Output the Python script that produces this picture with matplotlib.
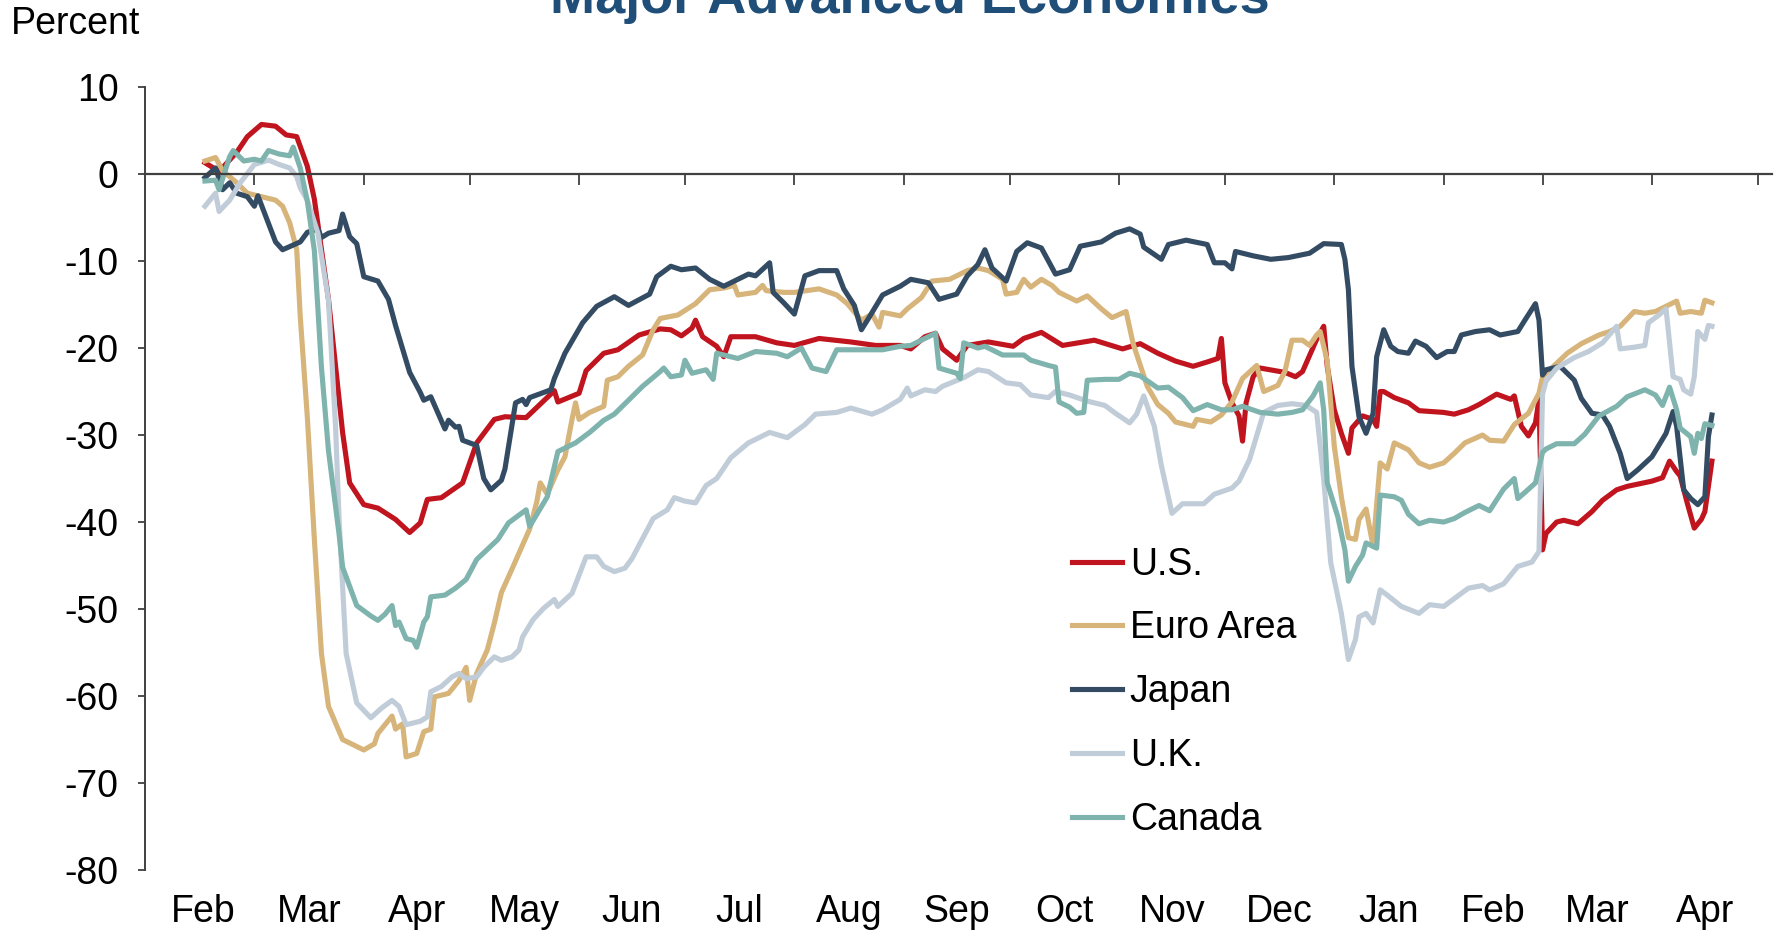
import matplotlib
matplotlib.use("Agg")
import matplotlib.pyplot as plt
import matplotlib.dates as mdates
import pandas as pd

plt.rcParams['font.family'] = ['Liberation Sans', 'DejaVu Sans']
plt.rcParams['axes.unicode_minus'] = False

# ---- data ----
us_dates = ["2020-02-16", "2020-02-20", "2020-02-25", "2020-02-28", "2020-03-03", "2020-03-07", "2020-03-10",
            "2020-03-13", "2020-03-16", "2020-03-18", "2020-03-22", "2020-03-26", "2020-03-28", "2020-04-01",
            "2020-04-05", "2020-04-10", "2020-04-14", "2020-04-17", "2020-04-19", "2020-04-23", "2020-04-29",
            "2020-05-03", "2020-05-08", "2020-05-11", "2020-05-17", "2020-05-25", "2020-05-26", "2020-06-01",
            "2020-06-03", "2020-06-08", "2020-06-12", "2020-06-18", "2020-06-24", "2020-06-27", "2020-06-30",
            "2020-07-03", "2020-07-04", "2020-07-06", "2020-07-10", "2020-07-12", "2020-07-14", "2020-07-21",
            "2020-07-27", "2020-08-01", "2020-08-08", "2020-08-17", "2020-08-24", "2020-08-31", "2020-09-03",
            "2020-09-07", "2020-09-10", "2020-09-12", "2020-09-16", "2020-09-19", "2020-09-25", "2020-10-02",
            "2020-10-05", "2020-10-10", "2020-10-16", "2020-10-25", "2020-11-02", "2020-11-07", "2020-11-12",
            "2020-11-17", "2020-11-22", "2020-11-26", "2020-11-29", "2020-11-30", "2020-12-01", "2020-12-03",
            "2020-12-05", "2020-12-06", "2020-12-07", "2020-12-09", "2020-12-11", "2020-12-18", "2020-12-21",
            "2020-12-23", "2020-12-27", "2020-12-29", "2020-12-30", "2021-01-01", "2021-01-03", "2021-01-05",
            "2021-01-06", "2021-01-09", "2021-01-12", "2021-01-13", "2021-01-14", "2021-01-15", "2021-01-18",
            "2021-01-22", "2021-01-25", "2021-02-01", "2021-02-04", "2021-02-08", "2021-02-11", "2021-02-16",
            "2021-02-20", "2021-02-21", "2021-02-23", "2021-02-25", "2021-02-27", "2021-02-28", "2021-03-01",
            "2021-03-02", "2021-03-05", "2021-03-07", "2021-03-11", "2021-03-15", "2021-03-18", "2021-03-22",
            "2021-03-25", "2021-04-01", "2021-04-04", "2021-04-06", "2021-04-08", "2021-04-09", "2021-04-11",
            "2021-04-13", "2021-04-15", "2021-04-16", "2021-04-18"]
us_vals = [1.3, 0.3, 2.5, 4.3, 5.7, 5.5, 4.5,
           4.3, 0.9, -2.9, -14.4, -29.7, -35.5, -38.0,
           -38.4, -39.7, -41.2, -40.1, -37.4, -37.2, -35.5,
           -30.9, -28.2, -27.9, -28.0, -24.9, -26.2, -25.2,
           -22.6, -20.6, -20.2, -18.5, -17.8, -17.9, -18.6,
           -17.7, -16.8, -18.7, -19.8, -21.0, -18.7, -18.7,
           -19.4, -19.7, -18.9, -19.3, -19.7, -19.7, -20.1,
           -18.7, -18.3, -20.1, -21.4, -19.7, -19.3, -19.8,
           -18.9, -18.2, -19.7, -19.1, -20.1, -19.5, -20.6,
           -21.5, -22.1, -21.6, -21.2, -18.9, -24.0, -26.3,
           -27.8, -30.7, -26.3, -23.3, -22.3, -22.8, -23.3,
           -22.7, -19.0, -17.5, -22.1, -27.1, -29.8, -32.1,
           -29.2, -27.8, -28.2, -29.0, -25.0, -25.0, -25.7,
           -26.3, -27.2, -27.4, -27.6, -27.1, -26.5, -25.3,
           -25.9, -25.5, -29.0, -30.1, -28.6, -25.9, -43.2,
           -41.3, -40.0, -39.8, -40.2, -38.8, -37.5, -36.3,
           -35.9, -35.3, -34.9, -33.0, -34.2, -34.7, -37.8,
           -40.7, -39.7, -38.8, -33.0]

euro_dates = ["2020-02-16", "2020-02-19", "2020-02-21", "2020-02-25", "2020-02-28", "2020-03-03", "2020-03-07",
              "2020-03-09", "2020-03-11", "2020-03-13", "2020-03-14", "2020-03-16", "2020-03-18", "2020-03-20",
              "2020-03-22", "2020-03-26", "2020-04-01", "2020-04-04", "2020-04-05", "2020-04-09", "2020-04-10",
              "2020-04-12", "2020-04-13", "2020-04-16", "2020-04-18", "2020-04-20", "2020-04-21", "2020-04-25",
              "2020-04-28", "2020-04-30", "2020-05-01", "2020-05-03", "2020-05-06", "2020-05-08", "2020-05-10",
              "2020-05-13", "2020-05-18", "2020-05-20", "2020-05-21", "2020-05-23", "2020-05-26", "2020-05-28",
              "2020-05-30", "2020-05-31", "2020-06-01", "2020-06-04", "2020-06-08", "2020-06-09", "2020-06-12",
              "2020-06-15", "2020-06-19", "2020-06-22", "2020-06-24", "2020-06-29", "2020-07-04", "2020-07-08",
              "2020-07-12", "2020-07-15", "2020-07-16", "2020-07-21", "2020-07-23", "2020-07-24", "2020-07-29",
              "2020-08-01", "2020-08-08", "2020-08-13", "2020-08-16", "2020-08-20", "2020-08-23", "2020-08-25",
              "2020-08-26", "2020-08-31", "2020-09-02", "2020-09-06", "2020-09-09", "2020-09-14", "2020-09-19",
              "2020-09-22", "2020-09-25", "2020-09-29", "2020-09-30", "2020-10-03", "2020-10-05", "2020-10-07",
              "2020-10-10", "2020-10-13", "2020-10-15", "2020-10-20", "2020-10-23", "2020-10-27", "2020-10-30",
              "2020-11-03", "2020-11-05", "2020-11-09", "2020-11-12", "2020-11-15", "2020-11-17", "2020-11-22",
              "2020-11-23", "2020-11-27", "2020-11-30", "2020-12-03", "2020-12-06", "2020-12-10", "2020-12-12",
              "2020-12-16", "2020-12-18", "2020-12-20", "2020-12-23", "2020-12-25", "2020-12-27", "2020-12-28",
              "2020-12-30", "2021-01-01", "2021-01-03", "2021-01-05", "2021-01-07", "2021-01-08", "2021-01-10",
              "2021-01-12", "2021-01-14", "2021-01-16", "2021-01-18", "2021-01-22", "2021-01-25", "2021-01-28",
              "2021-02-01", "2021-02-04", "2021-02-07", "2021-02-12", "2021-02-14", "2021-02-18", "2021-02-21",
              "2021-02-25", "2021-02-28", "2021-03-01", "2021-03-08", "2021-03-12", "2021-03-17", "2021-03-20",
              "2021-03-23", "2021-03-27", "2021-03-30", "2021-04-02", "2021-04-05", "2021-04-08", "2021-04-09",
              "2021-04-12", "2021-04-15", "2021-04-16", "2021-04-18"]
euro_vals = [1.5, 1.9, 0.4, -1.0, -2.2, -2.6, -3.0,
             -3.7, -5.6, -8.7, -16.4, -27.9, -42.0, -55.1,
             -61.2, -65.0, -66.2, -65.5, -64.3, -62.3, -63.8,
             -63.2, -67.0, -66.6, -64.1, -63.8, -60.1, -59.7,
             -58.2, -56.7, -60.5, -57.4, -54.7, -51.6, -48.1,
             -45.4, -40.8, -37.7, -35.5, -36.8, -34.0, -32.5,
             -28.2, -26.3, -28.2, -27.4, -26.7, -23.7, -23.3,
             -22.1, -20.8, -17.9, -16.6, -16.2, -14.9, -13.3,
             -13.1, -12.8, -13.9, -13.6, -12.8, -13.4, -13.6,
             -13.6, -13.2, -13.9, -14.9, -16.8, -16.1, -17.6,
             -15.9, -16.3, -15.5, -14.2, -12.3, -12.1, -11.1,
             -10.8, -11.1, -12.1, -13.8, -13.6, -12.1, -13.0,
             -12.1, -12.8, -13.6, -14.6, -14.0, -15.5, -16.5,
             -15.8, -19.5, -24.4, -26.5, -27.5, -28.5, -29.0,
             -28.2, -28.5, -27.7, -26.2, -23.5, -22.0, -25.0,
             -24.3, -22.7, -19.1, -19.1, -19.7, -18.5, -18.1,
             -21.5, -31.3, -37.1, -41.8, -42.0, -39.7, -38.5,
             -42.8, -33.2, -33.9, -30.9, -31.7, -33.2, -33.7,
             -33.2, -32.1, -30.9, -30.0, -30.6, -30.7, -28.8,
             -27.5, -25.2, -23.3, -20.6, -19.5, -18.5, -18.1,
             -17.5, -15.8, -16.0, -15.8, -15.2, -14.6, -16.0,
             -15.8, -16.0, -14.5, -14.8]

japan_dates = ["2020-02-16", "2020-02-19", "2020-02-21", "2020-02-23", "2020-02-25", "2020-02-28", "2020-03-01",
               "2020-03-02", "2020-03-07", "2020-03-09", "2020-03-14", "2020-03-16", "2020-03-19", "2020-03-20",
               "2020-03-22", "2020-03-25", "2020-03-26", "2020-03-28", "2020-03-30", "2020-04-01", "2020-04-05",
               "2020-04-08", "2020-04-10", "2020-04-14", "2020-04-17", "2020-04-18", "2020-04-20", "2020-04-24",
               "2020-04-25", "2020-04-27", "2020-04-28", "2020-04-29", "2020-05-03", "2020-05-05", "2020-05-07",
               "2020-05-10", "2020-05-11", "2020-05-14", "2020-05-16", "2020-05-17", "2020-05-18", "2020-05-24",
               "2020-05-25", "2020-05-28", "2020-06-02", "2020-06-06", "2020-06-11", "2020-06-15", "2020-06-21",
               "2020-06-23", "2020-06-27", "2020-06-30", "2020-07-04", "2020-07-08", "2020-07-12", "2020-07-19",
               "2020-07-21", "2020-07-25", "2020-07-26", "2020-07-29", "2020-08-01", "2020-08-04", "2020-08-08",
               "2020-08-13", "2020-08-15", "2020-08-18", "2020-08-20", "2020-08-22", "2020-08-26", "2020-08-31",
               "2020-09-03", "2020-09-08", "2020-09-11", "2020-09-16", "2020-09-19", "2020-09-22", "2020-09-24",
               "2020-09-26", "2020-09-30", "2020-10-03", "2020-10-06", "2020-10-10", "2020-10-14", "2020-10-18",
               "2020-10-21", "2020-10-27", "2020-10-31", "2020-11-04", "2020-11-07", "2020-11-08", "2020-11-13",
               "2020-11-15", "2020-11-20", "2020-11-26", "2020-11-28", "2020-12-01", "2020-12-03", "2020-12-04",
               "2020-12-09", "2020-12-14", "2020-12-19", "2020-12-25", "2020-12-29", "2021-01-03", "2021-01-04",
               "2021-01-05", "2021-01-06", "2021-01-08", "2021-01-10", "2021-01-12", "2021-01-13", "2021-01-15",
               "2021-01-17", "2021-01-19", "2021-01-22", "2021-01-24", "2021-01-27", "2021-01-30", "2021-02-02",
               "2021-02-04", "2021-02-06", "2021-02-10", "2021-02-14", "2021-02-17", "2021-02-22", "2021-02-24",
               "2021-02-27", "2021-02-28", "2021-03-01", "2021-03-02", "2021-03-06", "2021-03-10", "2021-03-12",
               "2021-03-15", "2021-03-18", "2021-03-20", "2021-03-23", "2021-03-25", "2021-03-28", "2021-04-01",
               "2021-04-05", "2021-04-07", "2021-04-08", "2021-04-10", "2021-04-12", "2021-04-14", "2021-04-16",
               "2021-04-17", "2021-04-18"]
japan_vals = [-0.4, 0.7, -1.8, -1.0, -2.2, -2.6, -3.7,
              -2.5, -7.8, -8.7, -7.8, -6.7, -6.3, -7.3,
              -6.8, -6.5, -4.6, -7.2, -8.0, -11.8, -12.3,
              -14.4, -17.4, -22.8, -25.1, -26.0, -25.6, -29.3,
              -28.3, -29.1, -29.0, -30.6, -31.2, -35.0, -36.3,
              -35.2, -33.9, -26.3, -25.9, -26.5, -25.7, -24.8,
              -23.5, -20.6, -17.1, -15.2, -14.1, -15.1, -13.8,
              -11.8, -10.6, -11.0, -10.8, -12.1, -12.9, -11.5,
              -11.7, -10.2, -13.6, -14.8, -16.1, -11.7, -11.1,
              -11.1, -13.2, -15.1, -17.9, -16.6, -13.9, -12.9,
              -12.1, -12.5, -14.4, -13.8, -11.7, -10.4, -8.7,
              -10.8, -12.3, -8.9, -7.9, -8.5, -11.5, -11.0,
              -8.3, -7.8, -6.8, -6.3, -6.9, -8.4, -9.8,
              -8.1, -7.6, -8.1, -10.2, -10.2, -10.9, -8.9,
              -9.4, -9.8, -9.6, -9.1, -8.0, -8.1, -9.8,
              -13.3, -22.1, -27.9, -29.8, -27.5, -21.0, -17.9,
              -19.8, -20.4, -20.6, -19.2, -19.8, -21.1, -20.4,
              -20.4, -18.5, -18.1, -17.9, -18.5, -18.1, -16.8,
              -14.9, -16.8, -23.1, -22.5, -22.1, -23.7, -25.8,
              -27.5, -27.7, -29.0, -32.1, -35.0, -34.0, -32.5,
              -29.8, -27.3, -29.0, -36.3, -37.3, -38.0, -37.1,
              -30.2, -27.7]

uk_dates = ["2020-02-16", "2020-02-19", "2020-02-20", "2020-02-23", "2020-02-26", "2020-03-01", "2020-03-05",
            "2020-03-08", "2020-03-11", "2020-03-13", "2020-03-14", "2020-03-16", "2020-03-19", "2020-03-22",
            "2020-03-24", "2020-03-25", "2020-03-27", "2020-03-30", "2020-04-03", "2020-04-06", "2020-04-09",
            "2020-04-11", "2020-04-13", "2020-04-17", "2020-04-19", "2020-04-20", "2020-04-23", "2020-04-26",
            "2020-04-28", "2020-04-30", "2020-05-03", "2020-05-05", "2020-05-08", "2020-05-10", "2020-05-13",
            "2020-05-15", "2020-05-16", "2020-05-19", "2020-05-22", "2020-05-25", "2020-05-26", "2020-05-30",
            "2020-06-01", "2020-06-03", "2020-06-06", "2020-06-08", "2020-06-11", "2020-06-14", "2020-06-16",
            "2020-06-19", "2020-06-22", "2020-06-26", "2020-06-28", "2020-07-01", "2020-07-04", "2020-07-07",
            "2020-07-10", "2020-07-14", "2020-07-19", "2020-07-25", "2020-07-30", "2020-08-04", "2020-08-07",
            "2020-08-13", "2020-08-17", "2020-08-23", "2020-08-26", "2020-08-31", "2020-09-02", "2020-09-03",
            "2020-09-07", "2020-09-10", "2020-09-12", "2020-09-18", "2020-09-22", "2020-09-25", "2020-09-30",
            "2020-10-04", "2020-10-07", "2020-10-12", "2020-10-14", "2020-10-18", "2020-10-23", "2020-10-28",
            "2020-10-31", "2020-11-04", "2020-11-06", "2020-11-08", "2020-11-11", "2020-11-13", "2020-11-16",
            "2020-11-19", "2020-11-25", "2020-11-28", "2020-12-03", "2020-12-05", "2020-12-08", "2020-12-10",
            "2020-12-12", "2020-12-16", "2020-12-20", "2020-12-24", "2020-12-27", "2020-12-29", "2020-12-31",
            "2021-01-03", "2021-01-05", "2021-01-07", "2021-01-08", "2021-01-10", "2021-01-12", "2021-01-14",
            "2021-01-16", "2021-01-20", "2021-01-25", "2021-01-28", "2021-02-01", "2021-02-04", "2021-02-08",
            "2021-02-12", "2021-02-14", "2021-02-18", "2021-02-22", "2021-02-26", "2021-02-28", "2021-03-01",
            "2021-03-02", "2021-03-05", "2021-03-10", "2021-03-14", "2021-03-18", "2021-03-22", "2021-03-23",
            "2021-03-27", "2021-03-30", "2021-03-31", "2021-04-03", "2021-04-05", "2021-04-07", "2021-04-09",
            "2021-04-10", "2021-04-12", "2021-04-13", "2021-04-14", "2021-04-16", "2021-04-17", "2021-04-18"]
uk_vals = [-3.7, -2.2, -4.3, -3.0, -1.0, 1.1, 1.6,
           1.1, 0.7, -0.3, -1.6, -3.0, -6.8, -14.5,
           -29.0, -39.7, -55.1, -60.8, -62.5, -61.4, -60.5,
           -61.2, -63.3, -62.9, -62.4, -59.5, -58.9, -57.8,
           -57.4, -58.0, -57.8, -56.7, -55.5, -55.9, -55.5,
           -54.7, -53.2, -51.2, -49.9, -48.9, -49.7, -48.2,
           -46.1, -44.0, -44.0, -45.1, -45.7, -45.3, -44.2,
           -41.9, -39.6, -38.6, -37.2, -37.6, -37.8, -35.8,
           -35.0, -32.6, -30.9, -29.7, -30.3, -28.8, -27.6,
           -27.4, -26.9, -27.6, -27.1, -25.9, -24.6, -25.5,
           -24.8, -25.0, -24.4, -23.4, -22.5, -22.7, -24.0,
           -24.2, -25.4, -25.7, -25.0, -25.4, -26.1, -26.6,
           -27.5, -28.6, -27.6, -25.5, -29.0, -33.5, -39.0,
           -37.9, -37.9, -36.8, -36.1, -35.3, -32.8, -30.1,
           -27.4, -26.6, -26.4, -26.6, -27.4, -35.1, -44.7,
           -50.5, -55.8, -53.5, -50.9, -50.5, -51.6, -47.8,
           -48.4, -49.7, -50.5, -49.5, -49.7, -48.8, -47.6,
           -47.3, -47.8, -47.1, -45.1, -44.6, -43.4, -25.3,
           -23.8, -22.3, -21.1, -20.4, -19.4, -17.5, -20.1,
           -19.9, -19.7, -17.1, -16.2, -15.5, -23.3, -23.6,
           -24.8, -25.3, -23.3, -18.1, -19.0, -17.4, -17.5]

canada_dates = ["2020-02-16", "2020-02-19", "2020-02-20", "2020-02-23", "2020-02-24", "2020-02-27", "2020-03-01",
                "2020-03-03", "2020-03-05", "2020-03-08", "2020-03-11", "2020-03-12", "2020-03-14", "2020-03-16",
                "2020-03-18", "2020-03-20", "2020-03-22", "2020-03-25", "2020-03-26", "2020-03-30", "2020-04-03",
                "2020-04-05", "2020-04-07", "2020-04-09", "2020-04-10", "2020-04-11", "2020-04-13", "2020-04-15",
                "2020-04-16", "2020-04-18", "2020-04-19", "2020-04-20", "2020-04-24", "2020-04-27", "2020-04-30",
                "2020-05-03", "2020-05-09", "2020-05-12", "2020-05-17", "2020-05-18", "2020-05-23", "2020-05-26",
                "2020-05-31", "2020-06-04", "2020-06-08", "2020-06-11", "2020-06-15", "2020-06-19", "2020-06-24",
                "2020-06-25", "2020-06-27", "2020-06-30", "2020-07-01", "2020-07-03", "2020-07-07", "2020-07-09",
                "2020-07-10", "2020-07-16", "2020-07-21", "2020-07-27", "2020-07-30", "2020-08-03", "2020-08-06",
                "2020-08-10", "2020-08-13", "2020-08-18", "2020-08-26", "2020-08-31", "2020-09-03", "2020-09-06",
                "2020-09-10", "2020-09-11", "2020-09-16", "2020-09-17", "2020-09-18", "2020-09-22", "2020-09-24",
                "2020-09-29", "2020-10-05", "2020-10-07", "2020-10-12", "2020-10-14", "2020-10-15", "2020-10-18",
                "2020-10-20", "2020-10-22", "2020-10-23", "2020-10-28", "2020-11-01", "2020-11-04", "2020-11-07",
                "2020-11-12", "2020-11-15", "2020-11-19", "2020-11-22", "2020-11-26", "2020-11-30", "2020-12-03",
                "2020-12-06", "2020-12-11", "2020-12-16", "2020-12-20", "2020-12-23", "2020-12-26", "2020-12-28",
                "2020-12-29", "2020-12-30", "2021-01-02", "2021-01-04", "2021-01-05", "2021-01-07", "2021-01-09",
                "2021-01-10", "2021-01-13", "2021-01-14", "2021-01-18", "2021-01-20", "2021-01-22", "2021-01-25",
                "2021-01-28", "2021-02-01", "2021-02-04", "2021-02-07", "2021-02-11", "2021-02-14", "2021-02-18",
                "2021-02-21", "2021-02-22", "2021-02-24", "2021-02-27", "2021-02-28", "2021-03-01", "2021-03-02",
                "2021-03-05", "2021-03-10", "2021-03-13", "2021-03-17", "2021-03-22", "2021-03-25", "2021-03-30",
                "2021-04-02", "2021-04-04", "2021-04-06", "2021-04-08", "2021-04-09", "2021-04-12", "2021-04-13",
                "2021-04-14", "2021-04-15", "2021-04-16", "2021-04-18"]
canada_vals = [-0.8, -0.7, -1.8, 2.0, 2.7, 1.5, 1.7,
               1.5, 2.7, 2.3, 2.1, 3.1, 0.7, -3.1,
               -8.8, -22.2, -31.8, -41.4, -45.2, -49.6, -50.8,
               -51.3, -50.6, -49.6, -51.9, -51.5, -53.4, -53.6,
               -54.4, -51.5, -50.9, -48.6, -48.4, -47.6, -46.6,
               -44.3, -42.0, -40.1, -38.6, -40.5, -37.1, -31.9,
               -30.9, -29.7, -28.3, -27.6, -26.0, -24.4, -22.7,
               -22.3, -23.3, -23.1, -21.4, -22.9, -22.5, -23.6,
               -20.6, -21.2, -20.4, -20.6, -21.0, -20.0, -22.3,
               -22.7, -20.2, -20.2, -20.2, -19.8, -19.7, -19.1,
               -18.3, -22.3, -22.9, -23.5, -19.4, -20.0, -19.8,
               -20.8, -20.8, -21.4, -22.0, -22.2, -26.2, -26.8,
               -27.5, -27.4, -23.7, -23.6, -23.6, -22.9, -23.2,
               -24.6, -24.5, -25.7, -27.2, -26.5, -27.1, -27.1,
               -26.7, -27.4, -27.6, -27.4, -27.1, -25.5, -24.0,
               -27.1, -35.5, -39.4, -43.2, -46.8, -45.1, -43.8,
               -42.4, -43.0, -36.9, -37.1, -37.5, -39.1, -40.2,
               -39.8, -40.0, -39.6, -38.9, -38.1, -38.7, -36.2,
               -35.0, -37.3, -36.6, -35.5, -33.7, -32.0, -31.6,
               -31.0, -31.0, -29.9, -27.8, -26.7, -25.6, -24.8,
               -25.4, -26.6, -24.5, -27.1, -29.2, -30.2, -32.1,
               -29.8, -30.4, -28.7, -28.9]

series_names = ["U.S.", "Euro Area", "Japan", "U.K.", "Canada"]
series_colors = ["#C0141E", "#D7B47A", "#344C63", "#C0CCD8", "#7FB3AD"]
month_labels = ["Feb", "Mar", "Apr", "May", "Jun", "Jul", "Aug", "Sep", "Oct", "Nov", "Dec",
                "Jan", "Feb", "Mar", "Apr"]

fig = plt.figure(figsize=(17.81, 9.31), dpi=100)
ax = fig.add_axes([0.0814, 0.0655, 0.9135, 0.841])

all_series = [(us_dates, us_vals), (euro_dates, euro_vals), (japan_dates, japan_vals),
              (uk_dates, uk_vals), (canada_dates, canada_vals)]
for (d, v), name, col in zip(all_series, series_names, series_colors):
    ax.plot(pd.to_datetime(d), v, color=col, lw=3.7, label=name, solid_joinstyle='round')

ax.set_ylim(-80, 10)
ax.set_yticks(range(-80, 11, 10))
ax.set_xlim(pd.Timestamp("2020-01-30"), pd.Timestamp("2021-05-05"))

# month boundaries as tick marks on the zero line
month_starts = pd.date_range("2020-02-01", "2021-05-01", freq="MS")
ax.spines['bottom'].set_position(('data', 0))
ax.spines['top'].set_visible(False)
ax.spines['right'].set_visible(False)
ax.spines['bottom'].set_color('#404040')
ax.spines['left'].set_color('#404040')
ax.spines['bottom'].set_linewidth(1.6)
ax.spines['left'].set_linewidth(1.4)
ax.set_xticks(month_starts[1:])
ax.tick_params(axis='x', direction='out', length=8, width=1.3, color='#404040', labelbottom=False)
ax.tick_params(axis='y', direction='out', length=5, width=1.3, color='#404040', labelsize=27, pad=14)

# month names centred in each month, along the bottom
mids = month_starts[:-1] + (month_starts[1:] - month_starts[:-1]) / 2
sec = ax.secondary_xaxis('bottom')
sec.set_xticks(mdates.date2num(mids), month_labels)
sec.tick_params(length=0, labelsize=27, pad=17)
sec.spines['bottom'].set_visible(False)

ax.legend(frameon=False, loc='upper left', bbox_to_anchor=(0.570, 0.413), fontsize=27,
          handlelength=1.32, handletextpad=0.21, labelspacing=0.74, borderpad=0, borderaxespad=0)

fig.text(0.006, 1 - 34 / 931, "Percent", fontsize=27, va='baseline', ha='left')
fig.text(0.511, 1 - 13 / 931, "Major Advanced Economies", fontsize=39, fontweight='bold',
         color='#1F4E79', ha='center', va='baseline')

fig.savefig("out.png", dpi=100)
